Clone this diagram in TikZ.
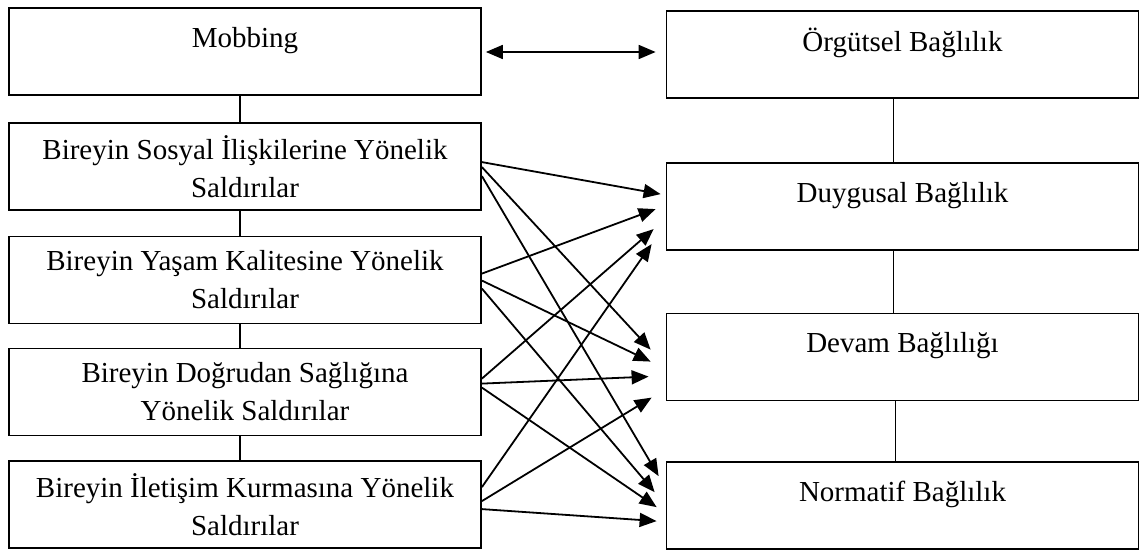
\documentclass[tikz,border=0pt]{standalone}
\usepackage{fontspec}
\setmainfont{Liberation Serif}
\usetikzlibrary{arrows.meta,calc}
\begin{document}
\begin{tikzpicture}[x=0.5pt,y=-0.5pt,
	box/.style={draw,line width=0.9pt,minimum width=236pt,minimum height=43.5pt,inner sep=0pt,align=center,font=\fontsize{14.5}{19}\selectfont},
	arr/.style={line width=0.9pt,-{Triangle[length=8.5pt,width=7pt]}}]
	\useasboundingbox (0,0) rectangle (1139,551);
	\node[box] (mob) at (245,51.5) {Mobbing\\[-4.5pt]~};
	\node[box] (b1) at (245,166.5) {Bireyin Sosyal İlişkilerine Yönelik\\Saldırılar};
	\node[box] (b2) at (245,280) {Bireyin Yaşam Kalitesine Yönelik\\Saldırılar};
	\node[box] (b3) at (245,392) {Bireyin Doğrudan Sağlığına\\Yönelik Saldırılar};
	\node[box] (b4) at (245,504.5) {Bireyin İletişim Kurmasına Yönelik\\Saldırılar};
	\node[box] (org) at (902.5,54.5) {Örgütsel Bağlılık\\[-4.5pt]~};
	\node[box] (duy) at (902.5,206.5) {Duygusal Bağlılık\\[-4.5pt]~};
	\node[box] (dev) at (902.5,357) {Devam Bağlılığı\\[-4.5pt]~};
	\node[box] (nor) at (902.5,505.5) {Normatif Bağlılık\\[-4.5pt]~};
	\draw[line width=0.9pt] ($(mob.south)+(-5,0)$) -- ($(b1.north)+(-5,0)$);
	\draw[line width=0.9pt] ($(b1.south)+(-5,0)$) -- ($(b2.north)+(-5,0)$);
	\draw[line width=0.9pt] ($(b2.south)+(-5,0)$) -- ($(b3.north)+(-5,0)$);
	\draw[line width=0.9pt] ($(b3.south)+(-5,0)$) -- ($(b4.north)+(-5,0)$);
	\draw[line width=0.9pt] ($(org.south)+(-9,0)$) -- ($(duy.north)+(-9,0)$);
	\draw[line width=0.9pt] ($(duy.south)+(-9,0)$) -- ($(dev.north)+(-9,0)$);
	\draw[line width=0.9pt] ($(dev.south)+(-7,0)$) -- ($(nor.north)+(-7,0)$);
	\draw[line width=0.9pt,{Triangle[length=8.5pt,width=7pt]}-{Triangle[length=8.5pt,width=7pt]}] ($(mob.east)+(4,0.5)$) -- ($(org.west)+(-10,-2.5)$);
	\draw[arr] ($(b1.north east)+(0,40)$) -- ($(duy.north west)+(-5,32)$);
	\draw[arr] ($(b1.north east)+(0,45)$) -- ($(dev.north west)+(-15,37)$);
	\draw[arr] ($(b1.north east)+(0,54)$) -- ($(nor.north west)+(-7,15)$);
	\draw[arr] ($(b2.north east)+(0,38)$) -- ($(duy.north west)+(-10,47)$);
	\draw[arr] ($(b2.north east)+(0,45)$) -- ($(dev.north west)+(-15,49)$);
	\draw[arr] ($(b2.north east)+(0,53)$) -- ($(nor.north west)+(-11,31)$);
	\draw[arr] ($(b3.north east)+(0,31)$) -- ($(duy.north west)+(-12,67)$);
	\draw[arr] ($(b3.north east)+(0,36)$) -- ($(dev.north west)+(-17,64)$);
	\draw[arr] ($(b3.north east)+(0,40)$) -- ($(nor.north west)+(-9,46)$);
	\draw[arr] ($(b4.north east)+(0,27)$) -- ($(duy.north west)+(-14,82)$);
	\draw[arr] ($(b4.north east)+(0,41)$) -- ($(dev.north west)+(-14,85)$);
	\draw[arr] ($(b4.north east)+(0,49)$) -- ($(nor.north west)+(-9,60)$);
\end{tikzpicture}
\end{document}
